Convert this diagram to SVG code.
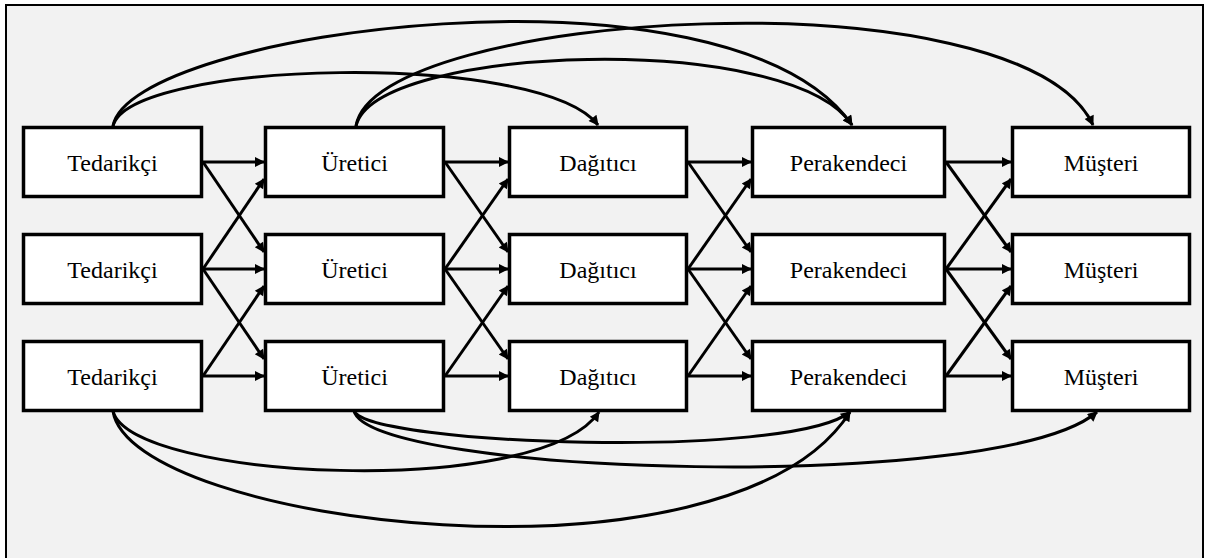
<svg xmlns="http://www.w3.org/2000/svg" width="1209" height="558" viewBox="0 0 1209 558">
  <defs>
    <marker id="arrow" viewBox="0 0 10 10" refX="9" refY="5" markerWidth="12" markerHeight="10" markerUnits="userSpaceOnUse" orient="auto">
      <path d="M0,0 L10,5 L0,10 z" fill="#000"/>
    </marker>
    <style>
      .box { fill: #ffffff; stroke: #000; stroke-width: 3.5; }
      .lbl { font-family: "Liberation Serif", "DejaVu Serif", serif; font-size: 24px; fill: #000; text-anchor: middle; }
      .link { fill: none; stroke: #000; stroke-width: 3; marker-end: url(#arrow); }
    </style>
  </defs>

  <!-- frame -->
  <rect x="0" y="0" width="1209" height="558" fill="#ffffff"/>
  <rect x="6" y="5" width="1197" height="560" fill="#f2f2f2" stroke="#000" stroke-width="2"/>

  <!-- connectors -->
  <g id="connectors">
    <!-- Tedarikçi -> Üretici -->
    <line class="link" x1="203" y1="162" x2="264" y2="162"/>
    <line class="link" x1="203" y1="162" x2="264" y2="252"/>
    <line class="link" x1="203" y1="269" x2="264" y2="179"/>
    <line class="link" x1="203" y1="269" x2="264" y2="269"/>
    <line class="link" x1="203" y1="269" x2="264" y2="359"/>
    <line class="link" x1="203" y1="376" x2="264" y2="286"/>
    <line class="link" x1="203" y1="376" x2="264" y2="376"/>
    <!-- Üretici -> Dağıtıcı -->
    <line class="link" x1="445" y1="162" x2="508" y2="162"/>
    <line class="link" x1="445" y1="162" x2="508" y2="252"/>
    <line class="link" x1="445" y1="269" x2="508" y2="179"/>
    <line class="link" x1="445" y1="269" x2="508" y2="269"/>
    <line class="link" x1="445" y1="269" x2="508" y2="359"/>
    <line class="link" x1="445" y1="376" x2="508" y2="286"/>
    <line class="link" x1="445" y1="376" x2="508" y2="376"/>
    <!-- Dağıtıcı -> Perakendeci -->
    <line class="link" x1="688" y1="162" x2="751" y2="162"/>
    <line class="link" x1="688" y1="162" x2="751" y2="252"/>
    <line class="link" x1="688" y1="269" x2="751" y2="179"/>
    <line class="link" x1="688" y1="269" x2="751" y2="269"/>
    <line class="link" x1="688" y1="269" x2="751" y2="359"/>
    <line class="link" x1="688" y1="376" x2="751" y2="286"/>
    <line class="link" x1="688" y1="376" x2="751" y2="376"/>
    <!-- Perakendeci -> Müşteri -->
    <line class="link" x1="946" y1="162" x2="1011" y2="162"/>
    <line class="link" x1="946" y1="162" x2="1011" y2="252"/>
    <line class="link" x1="946" y1="269" x2="1011" y2="179"/>
    <line class="link" x1="946" y1="269" x2="1011" y2="269"/>
    <line class="link" x1="946" y1="269" x2="1011" y2="359"/>
    <line class="link" x1="946" y1="376" x2="1011" y2="286"/>
    <line class="link" x1="946" y1="376" x2="1011" y2="376"/>

    <!-- arcs over the top row -->
    <path class="link" d="M113,126 C130,60 540,50 598,125"/>
    <path class="link" d="M113,126 C130,30 730,-50 852,125"/>
    <path class="link" d="M356,126 C375,45 790,30 852,125"/>
    <path class="link" d="M356,126 C375,10 1020,-30 1093,125"/>

    <!-- arcs under the bottom row -->
    <path class="link" d="M113,411 C130,480 540,500 599,412"/>
    <path class="link" d="M113,411 C130,525 730,600 850,412"/>
    <path class="link" d="M354,411 C370,445 790,460 850,412"/>
    <path class="link" d="M354,411 C370,475 1000,495 1097,412"/>
  </g>

  <!-- nodes -->
  <g id="tedarikci-1"><rect class="box" x="23.5" y="127.5" width="178" height="69"/><text class="lbl" x="112.5" y="171">Tedarikçi</text></g>
  <g id="tedarikci-2"><rect class="box" x="23.5" y="234.5" width="178" height="69"/><text class="lbl" x="112.5" y="278">Tedarikçi</text></g>
  <g id="tedarikci-3"><rect class="box" x="23.5" y="341.5" width="178" height="69"/><text class="lbl" x="112.5" y="385">Tedarikçi</text></g>

  <g id="uretici-1"><rect class="box" x="265.5" y="127.5" width="178" height="69"/><text class="lbl" x="354.5" y="171">Üretici</text></g>
  <g id="uretici-2"><rect class="box" x="265.5" y="234.5" width="178" height="69"/><text class="lbl" x="354.5" y="278">Üretici</text></g>
  <g id="uretici-3"><rect class="box" x="265.5" y="341.5" width="178" height="69"/><text class="lbl" x="354.5" y="385">Üretici</text></g>

  <g id="dagitici-1"><rect class="box" x="509.5" y="127.5" width="177" height="69"/><text class="lbl" x="598" y="171">Dağıtıcı</text></g>
  <g id="dagitici-2"><rect class="box" x="509.5" y="234.5" width="177" height="69"/><text class="lbl" x="598" y="278">Dağıtıcı</text></g>
  <g id="dagitici-3"><rect class="box" x="509.5" y="341.5" width="177" height="69"/><text class="lbl" x="598" y="385">Dağıtıcı</text></g>

  <g id="perakendeci-1"><rect class="box" x="752.5" y="127.5" width="192" height="69"/><text class="lbl" x="848.5" y="171">Perakendeci</text></g>
  <g id="perakendeci-2"><rect class="box" x="752.5" y="234.5" width="192" height="69"/><text class="lbl" x="848.5" y="278">Perakendeci</text></g>
  <g id="perakendeci-3"><rect class="box" x="752.5" y="341.5" width="192" height="69"/><text class="lbl" x="848.5" y="385">Perakendeci</text></g>

  <g id="musteri-1"><rect class="box" x="1012.5" y="127.5" width="177" height="69"/><text class="lbl" x="1101" y="171">Müşteri</text></g>
  <g id="musteri-2"><rect class="box" x="1012.5" y="234.5" width="177" height="69"/><text class="lbl" x="1101" y="278">Müşteri</text></g>
  <g id="musteri-3"><rect class="box" x="1012.5" y="341.5" width="177" height="69"/><text class="lbl" x="1101" y="385">Müşteri</text></g>
</svg>
